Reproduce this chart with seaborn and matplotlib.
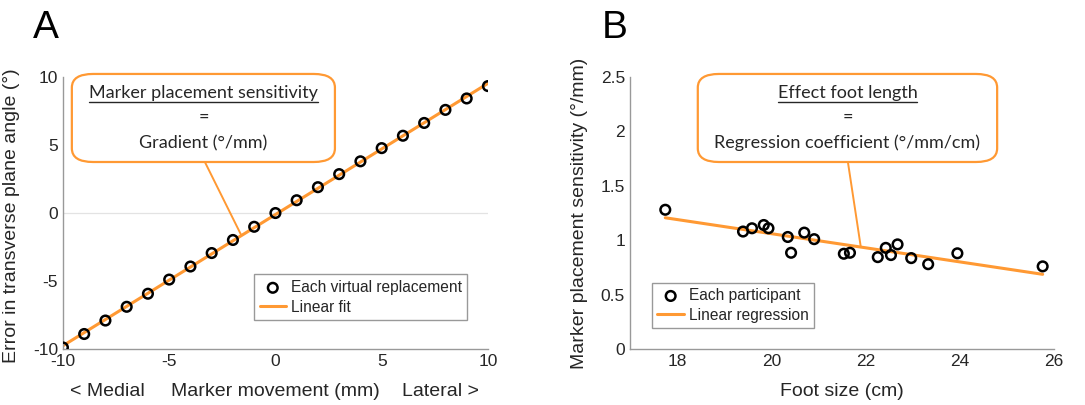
import numpy as np
import pandas as pd
import matplotlib
matplotlib.use("Agg")
import matplotlib.pyplot as plt
import seaborn as sns
from matplotlib.patches import FancyBboxPatch
from matplotlib.lines import Line2D

# panel A: virtual marker replacements
marker_move = [-10, -9, -8, -7, -6, -5, -4, -3, -2, -1, 0,
               1, 2, 3, 4, 5, 6, 7, 8, 9, 10]
angle_error = [-9.88, -8.89, -7.90, -6.89, -5.93, -4.89, -3.93, -2.94, -1.98, -1.01, 0.0,
               0.94, 1.90, 2.86, 3.80, 4.77, 5.68, 6.62, 7.58, 8.42, 9.33]

# panel B: each participant
foot_size = [17.75, 19.40, 19.59, 19.84, 19.94, 20.35, 20.42, 20.70, 20.91, 21.54,
             21.67, 22.26, 22.43, 22.54, 22.68, 22.97, 23.33, 23.95, 25.76]
sensitivity = [1.28, 1.08, 1.11, 1.14, 1.11, 1.03, 0.885, 1.07, 1.01, 0.876,
               0.885, 0.845, 0.93, 0.864, 0.962, 0.836, 0.78, 0.88, 0.76]

df_a = pd.DataFrame({"x": marker_move, "y": angle_error})
df_b = pd.DataFrame({"x": foot_size, "y": sensitivity})

ORANGE = "#FF9933"
AXCOL = "#999999"
TXT = "#262626"

sns.set_style("white")
plt.rcParams["font.family"] = ["Liberation Sans", "DejaVu Sans"]
plt.rcParams["xtick.direction"] = "in"
plt.rcParams["ytick.direction"] = "in"
plt.rcParams["axes.unicode_minus"] = False

fig = plt.figure(figsize=(10.85, 4.05), dpi=100)
ax_a = fig.add_axes([0.058, 0.138, 0.3917, 0.672])
ax_b = fig.add_axes([0.5806, 0.138, 0.3908, 0.672])


def style_axes(ax):
    for side in ["top", "right"]:
        ax.spines[side].set_visible(False)
    for side in ["left", "bottom"]:
        ax.spines[side].set_color(AXCOL)
        ax.spines[side].set_linewidth(1.0)
    ax.tick_params(axis="both", colors=AXCOL, labelcolor=TXT, labelsize=12.5,
                   length=4, width=1.0)


def draw_points_and_fit(ax, df, pt_label, fit_label):
    sns.regplot(data=df, x="x", y="y", ax=ax, scatter=False, ci=None, label=fit_label,
                line_kws={"color": ORANGE, "lw": 2.2, "zorder": 2})
    sns.scatterplot(data=df, x="x", y="y", ax=ax, marker="o", s=48,
                    facecolor="none", edgecolor="black", linewidth=1.8,
                    label=pt_label, zorder=3)


def callout(ax, x0, x1, lines, target, start_x):
    y0, y1 = 0.6875, 1.011
    box = FancyBboxPatch((x0, y0), x1 - x0, y1 - y0, transform=ax.transAxes,
                         boxstyle="round,pad=0,rounding_size=0.05",
                         facecolor="white", edgecolor=ORANGE, lw=1.6,
                         clip_on=False, zorder=5)
    ax.add_patch(box)
    ax.annotate("", xy=target, xycoords="data", xytext=(start_x, y0),
                textcoords="axes fraction",
                arrowprops=dict(arrowstyle="-", color=ORANGE, lw=1.4,
                                shrinkA=0, shrinkB=0), zorder=4)
    cx = (x0 + x1) / 2
    texts = []
    for txt, yy in zip(lines, [0.941, 0.853, 0.757]):
        t = ax.text(cx, yy, txt, transform=ax.transAxes, ha="center", va="center",
                    fontsize=13, family=["Lato", "DejaVu Sans"], color=TXT, zorder=6)
        texts.append(t)
    return texts[0]


def make_legend(ax, pt_label, fit_label, loc, anchor):
    h, l = ax.get_legend_handles_labels()
    order = [l.index(pt_label), l.index(fit_label)]
    leg = ax.legend([h[i] for i in order], [l[i] for i in order],
                    loc=loc, bbox_to_anchor=anchor, fontsize=11.2,
                    frameon=True, fancybox=False, framealpha=1, edgecolor=AXCOL,
                    handlelength=1.7, handletextpad=0.3, borderpad=0.35,
                    labelspacing=0.3, borderaxespad=0)
    leg.get_frame().set_linewidth(1.0)
    return leg


# panel A
style_axes(ax_a)
ax_a.axhline(0, color="#e3e3e3", lw=0.9, zorder=0)
draw_points_and_fit(ax_a, df_a, "Each virtual replacement", "Linear fit")
ax_a.set_xlim(-10, 10)
ax_a.set_ylim(-10, 10)
ax_a.set_xticks([-10, -5, 0, 5, 10])
ax_a.set_yticks([-10, -5, 0, 5, 10])
ax_a.set_xlabel("")
ax_a.set_ylabel("Error in transverse plane angle (°)", fontsize=14, color=TXT)
ax_a.yaxis.set_label_coords(-0.101, 0.49)
for txt, xx, ha in [("< Medial", 0.016, "left"), ("Marker movement (mm)", 0.5, "center"),
                    ("Lateral >", 0.98, "right")]:
    ax_a.text(xx, -0.154, txt, transform=ax_a.transAxes, ha=ha, va="center",
              fontsize=14, color=TXT)
slope_a, icpt_a = np.polyfit(marker_move, angle_error, 1)
head_a = callout(ax_a, 0.021, 0.64,
                 ["Marker placement sensitivity", "=", "Gradient (°/mm)"],
                 (-1.6, slope_a * -1.6 + icpt_a), 0.334)
make_legend(ax_a, "Each virtual replacement", "Linear fit", "lower right", (0.951, 0.107))

# panel B
style_axes(ax_b)
draw_points_and_fit(ax_b, df_b, "Each participant", "Linear regression")
ax_b.set_xlim(17, 26)
ax_b.set_ylim(0, 2.5)
ax_b.set_xticks([18, 20, 22, 24, 26])
ax_b.set_yticks([0, 0.5, 1, 1.5, 2, 2.5])
ax_b.set_yticklabels(["0", "0.5", "1", "1.5", "2", "2.5"])
ax_b.set_xlabel("")
ax_b.text(0.5, -0.154, "Foot size (cm)", transform=ax_b.transAxes, ha="center",
          va="center", fontsize=14, color=TXT)
ax_b.set_ylabel("Marker placement sensitivity (°/mm)", fontsize=14, color=TXT)
ax_b.yaxis.set_label_coords(-0.099, 0.5)
slope_b, icpt_b = np.polyfit(foot_size, sensitivity, 1)
head_b = callout(ax_b, 0.160, 0.866,
                 ["Effect foot length", "=", "Regression coefficient (°/mm/cm)"],
                 (21.9, slope_b * 21.9 + icpt_b), 0.514)
make_legend(ax_b, "Each participant", "Linear regression", "lower left", (0.052, 0.077))

# panel letters
fig.text(0.030, 0.905, "A", fontsize=28, color="black", va="baseline")
fig.text(0.555, 0.905, "B", fontsize=28, color="black", va="baseline")

# underline the callout headings
fig.canvas.draw()
renderer = fig.canvas.get_renderer()
for t in [head_a, head_b]:
    bb = t.get_window_extent(renderer)
    yy = bb.y0 - 1
    fig.add_artist(Line2D([bb.x0, bb.x1], [yy, yy], transform=None,
                          color=TXT, lw=1.0, zorder=7))

fig.savefig("out.png", dpi=100)
